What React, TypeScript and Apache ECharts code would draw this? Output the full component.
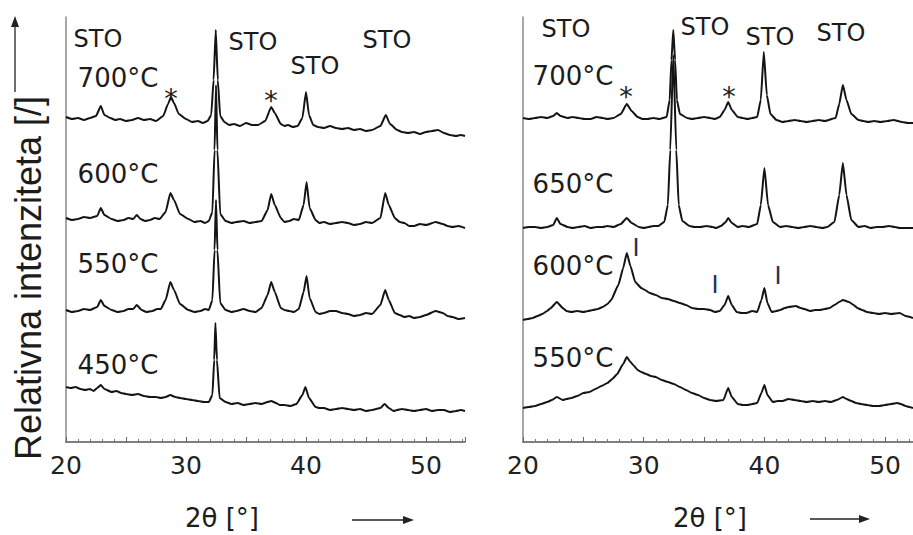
import React, { useEffect, useRef } from "react";
import * as echarts from "echarts";

// x = 2θ [°], y = relative intensity (stacked offsets, arbitrary units)
const left700: number[][] = [
  [20, 325], [20.5, 323], [21, 324], [21.5, 322], [22, 324], [22.5, 326], [22.9, 336], [23.2, 327], [23.7, 324],
  [24.1, 322], [24.5, 323], [25.0, 321], [25.5, 322], [26.0, 324], [26.5, 322], [27.0, 323], [27.5, 321],
  [28.1, 326], [28.5, 338], [28.75, 345], [29.0, 339], [29.4, 328], [30, 323], [30.5, 320], [31, 321], [31.4, 319],
  [31.8, 321], [32.1, 327], [32.3, 362], [32.48, 412], [32.65, 362], [32.85, 326], [33.2, 320], [33.6, 317],
  [34, 318], [34.5, 316], [35, 319], [35.5, 317], [36, 317], [36.6, 321], [37.1, 335], [37.4, 329], [37.9, 318],
  [38.2, 316], [38.5, 317], [38.9, 315], [39.3, 316], [39.7, 324], [40.0, 350], [40.25, 327], [40.6, 317],
  [41.0, 315], [41.5, 314], [42.0, 316], [42.5, 314], [43.0, 313], [43.5, 314], [44.0, 312], [44.5, 313],
  [45.0, 311], [45.5, 312], [46.2, 316], [46.65, 327], [47.0, 318], [47.6, 312], [48.0, 310], [48.5, 309],
  [49.0, 310], [49.5, 308], [50.0, 310], [50.5, 311], [51.0, 312], [51.5, 309], [52.0, 307], [52.5, 306],
  [52.9, 307], [53.25, 306],
];
const left600: number[][] = [
  [20, 224], [20.5, 222], [21, 223], [21.5, 225], [22, 224], [22.6, 226], [22.9, 234], [23.2, 227], [23.8, 223],
  [24.3, 221], [24.8, 222], [25.2, 224], [25.6, 223], [25.9, 227], [26.2, 223], [26.6, 221], [27, 222],
  [27.4, 224], [27.8, 223], [28.3, 230], [28.7, 249], [29.0, 242], [29.5, 228], [30.2, 223], [30.7, 220],
  [31.2, 221], [31.6, 219], [31.9, 221], [32.2, 230], [32.38, 292], [32.5, 357], [32.62, 292], [32.85, 228],
  [33.3, 221], [33.8, 219], [34.2, 220], [34.8, 221], [35.3, 219], [35.8, 220], [36.3, 221], [36.8, 232],
  [37.1, 248], [37.4, 237], [37.9, 224], [38.2, 220], [38.6, 221], [39.0, 223], [39.4, 222], [39.8, 237],
  [40.05, 260], [40.3, 234], [40.8, 222], [41.1, 219], [41.5, 220], [42.0, 218], [42.5, 219], [43.0, 220],
  [43.5, 219], [44.0, 217], [44.5, 218], [45.0, 220], [45.5, 219], [46.2, 224], [46.6, 249], [46.9, 237],
  [47.4, 224], [47.8, 220], [48.2, 219], [48.6, 216], [49, 216], [49.5, 218], [50, 217], [50.8, 220],
  [51.4, 218], [51.8, 216], [52.2, 215], [52.7, 216], [53.25, 214],
];
const left550: number[][] = [
  [20, 132], [20.5, 130], [21, 131], [21.5, 133], [22, 132], [22.6, 135], [22.9, 142], [23.2, 136], [23.8, 132],
  [24.3, 130], [24.8, 131], [25.2, 133], [25.6, 133], [25.9, 137], [26.3, 132], [26.7, 130], [27.2, 131],
  [27.6, 133], [27.9, 133], [28.3, 142], [28.7, 160], [29.0, 152], [29.5, 138], [30.2, 132], [30.7, 130],
  [31.2, 131], [31.6, 133], [31.9, 132], [32.2, 142], [32.38, 192], [32.5, 242], [32.62, 192], [32.85, 139],
  [33.3, 132], [33.8, 130], [34.2, 131], [34.8, 133], [35.3, 131], [35.8, 130], [36.3, 134], [36.8, 147],
  [37.1, 160], [37.4, 150], [37.9, 134], [38.2, 132], [38.6, 131], [39.0, 130], [39.4, 133], [39.8, 150],
  [40.05, 166], [40.3, 144], [40.8, 130], [41.1, 128], [41.5, 129], [42.0, 131], [42.5, 131], [43.0, 129],
  [43.5, 128], [44.0, 126], [44.5, 127], [45.0, 129], [45.5, 128], [46.2, 137], [46.6, 152], [46.9, 142],
  [47.4, 129], [47.8, 127], [48.2, 125], [48.6, 126], [49, 124], [49.5, 125], [50, 127], [50.8, 131],
  [51.4, 129], [51.8, 126], [52.2, 125], [52.7, 123], [53.25, 124],
];
const left450: number[][] = [
  [20, 55], [20.4, 54], [20.8, 55], [21.2, 53], [21.6, 52], [22.0, 53], [22.3, 51], [22.6, 54], [22.9, 57],
  [23.2, 53], [23.8, 50], [24.2, 51], [24.6, 49], [25.0, 48], [25.5, 47], [26.0, 48], [26.5, 46], [27.0, 45],
  [27.5, 45], [27.9, 44], [28.3, 45], [28.7, 47], [29.1, 45], [29.5, 44], [30, 43], [30.5, 42], [31, 41],
  [31.5, 40], [31.9, 40], [32.2, 47], [32.35, 82], [32.45, 119], [32.58, 82], [32.8, 44], [33.3, 40], [33.8, 38],
  [34.3, 39], [34.8, 37], [35.3, 38], [35.8, 39], [36.3, 38], [36.8, 40], [37.1, 41], [37.5, 39], [37.8, 37],
  [38.2, 37], [38.7, 36], [39.2, 38], [39.7, 47], [39.95, 55], [40.25, 44], [40.8, 35], [41.1, 34], [41.5, 34],
  [42.0, 32], [42.5, 33], [43.0, 34], [43.5, 33], [44.0, 32], [44.5, 33], [45.0, 31], [45.5, 32], [46.2, 34],
  [46.55, 38], [46.9, 34], [47.3, 31], [47.6, 32], [48.0, 33], [48.5, 32], [49.0, 31], [49.5, 32], [50.0, 33],
  [50.5, 31], [51.0, 32], [51.5, 32], [52.0, 30], [52.5, 31], [52.9, 32], [53.25, 31],
];

const right700: number[][] = [
  [20, 324], [20.5, 323], [21, 324], [21.5, 325], [22, 324], [22.5, 326], [22.8, 329], [23.1, 326], [23.7, 324],
  [24.1, 325], [24.6, 324], [25.1, 323], [25.6, 323], [26.1, 325], [26.6, 324], [27.0, 323], [27.5, 324],
  [28.1, 328], [28.6, 338], [29.0, 331], [29.5, 325], [29.9, 323], [30.3, 323], [30.8, 324], [31.3, 323],
  [31.9, 325], [32.15, 342], [32.3, 382], [32.45, 412], [32.6, 382], [32.75, 342], [33.0, 328], [33.6, 324],
  [34.0, 323], [34.5, 324], [35.0, 325], [35.5, 324], [35.9, 323], [36.3, 325], [36.7, 332], [37.0, 340],
  [37.3, 332], [37.8, 325], [38.2, 324], [38.6, 323], [39.0, 324], [39.4, 325], [39.7, 342], [39.95, 390],
  [40.2, 347], [40.5, 328], [41, 322], [41.5, 320], [42, 321], [42.5, 322], [43, 321], [43.5, 320], [44, 321],
  [44.5, 322], [45, 321], [45.9, 324], [46.2, 338], [46.5, 357], [46.8, 342], [47.2, 328], [47.8, 322],
  [48.2, 321], [48.6, 320], [49.1, 321], [49.6, 320], [50.2, 321], [50.7, 322], [51.4, 320], [51.9, 319],
  [52.31, 319],
];
const right650: number[][] = [
  [20, 214], [20.5, 215], [21, 215], [21.5, 214], [22, 215], [22.5, 217], [22.8, 224], [23.1, 218], [23.7, 215],
  [24.1, 214], [24.6, 215], [25.1, 216], [25.6, 214], [26.1, 215], [26.6, 215], [27.0, 216], [27.5, 215],
  [28.1, 218], [28.6, 224], [29.0, 219], [29.6, 215], [30.0, 214], [30.4, 215], [30.8, 216], [31.2, 216],
  [31.7, 220], [32.0, 237], [32.2, 292], [32.45, 387], [32.7, 292], [32.9, 237], [33.2, 221], [33.8, 216],
  [34.2, 215], [34.7, 215], [35.2, 216], [35.7, 215], [36.0, 214], [36.4, 216], [36.8, 220], [37.0, 224],
  [37.3, 219], [37.8, 215], [38.2, 216], [38.7, 215], [39.4, 218], [39.7, 237], [40.0, 274], [40.3, 237],
  [40.7, 220], [41.3, 215], [41.8, 216], [42.3, 215], [42.8, 214], [43.3, 215], [43.8, 216], [44.3, 215],
  [44.8, 214], [45.2, 215], [45.8, 220], [46.2, 247], [46.5, 279], [46.8, 247], [47.2, 222], [47.8, 215],
  [48.3, 216], [48.8, 214], [49.3, 215], [49.8, 215], [50.3, 216], [50.8, 215], [51.2, 214], [51.6, 214],
  [52.31, 214],
];
const right600: number[][] = [
  [20, 122], [20.4, 123], [20.8, 124], [21.2, 126], [21.6, 128], [22.0, 131], [22.3, 134], [22.8, 140],
  [23.3, 134], [23.6, 131], [24, 130], [24.5, 131], [25, 130], [25.4, 131], [25.8, 132], [26.2, 133],
  [26.6, 135], [27.0, 138], [27.3, 142], [27.9, 157], [28.3, 174], [28.6, 189], [28.9, 176], [29.3, 160],
  [29.8, 154], [30.1, 152], [30.5, 149], [31.0, 147], [31.5, 144], [32.0, 143], [32.5, 141], [33.0, 139],
  [33.5, 137], [34.0, 134], [34.5, 133], [35.0, 133], [35.5, 132], [35.9, 130], [36.3, 131], [36.7, 137],
  [37.0, 146], [37.3, 137], [37.7, 130], [38.1, 129], [38.5, 129], [39.0, 131], [39.4, 130], [39.75, 142],
  [40.0, 154], [40.25, 139], [40.6, 130], [41.0, 131], [41.3, 132], [41.7, 134], [42, 135], [42.6, 136],
  [43.0, 134], [43.3, 133], [43.8, 131], [44.2, 132], [44.6, 132], [45, 133], [45.4, 134], [45.8, 137],
  [46.2, 140], [46.5, 142], [47.0, 140], [47.4, 137], [47.7, 134], [48.1, 132], [48.5, 130], [49.0, 129],
  [49.5, 128], [50.0, 129], [50.5, 128], [51.2, 129], [51.7, 126], [52.31, 124],
];
const right550: number[][] = [
  [20, 34], [20.5, 35], [21, 36], [21.5, 38], [22, 40], [22.4, 42], [22.8, 45], [23.3, 42], [23.6, 43],
  [24, 44], [24.5, 46], [25, 49], [25.5, 50], [26, 53], [26.5, 56], [27, 59], [27.4, 63], [27.8, 68], [28.3, 78],
  [28.6, 85], [28.9, 80], [29.2, 76], [29.5, 72], [29.8, 70], [30.2, 68], [30.6, 66], [31, 65], [31.5, 62],
  [32, 60], [32.5, 58], [33, 55], [33.5, 52], [34, 49], [34.5, 47], [35, 44], [35.5, 42], [36, 41], [36.6, 42],
  [37.0, 54], [37.3, 45], [37.8, 38], [38.2, 37], [38.6, 37], [39.0, 38], [39.4, 39], [39.75, 49], [40.0, 57],
  [40.25, 47], [40.7, 40], [41.1, 41], [41.5, 41], [42.0, 43], [42.5, 42], [43.0, 41], [43.5, 40], [44.0, 41],
  [44.5, 40], [45.0, 41], [45.5, 40], [46.0, 42], [46.5, 45], [46.8, 43], [47.2, 41], [47.6, 39], [48, 38],
  [48.5, 37], [49, 36], [49.5, 36], [50, 37], [50.5, 38], [51, 39], [51.3, 38], [51.7, 36], [52.0, 35],
  [52.31, 34],
];

const leftTemps = ["700°C", "600°C", "550°C", "450°C"];
const rightTemps = ["700°C", "650°C", "600°C", "550°C"];
const phaseLabel = "STO";
const yTitle = "Relativna intenziteta [/]";
const xTitle = "2θ [°]";

const FONT = "DejaVu Sans";
const INK = "#1c1c1c";

function txt(text: string, x: number, y: number, size: number, fill = INK, extra: any = {}) {
  return {
    type: "text",
    x,
    y,
    silent: true,
    ...extra,
    style: {
      text,
      fill,
      fontSize: size,
      fontFamily: FONT,
      align: "center",
      verticalAlign: "middle",
      textAlign: "center",
      textVerticalAlign: "middle",
    },
  };
}

function arrow(x1: number, y1: number, x2: number, y2: number, vertical = false) {
  const els: any[] = [];
  if (vertical) {
    els.push({ type: "line", shape: { x1, y1, x2, y2: y2 + 8 }, style: { stroke: "#222", lineWidth: 1.3 } });
    els.push({ type: "polygon", shape: { points: [[x2, y2], [x2 - 4, y2 + 11], [x2 + 4, y2 + 11]] }, style: { fill: "#222" } });
  } else {
    els.push({ type: "line", shape: { x1, y1, x2: x2 - 8, y2 }, style: { stroke: "#222", lineWidth: 1.3 } });
    els.push({ type: "polygon", shape: { points: [[x2, y2], [x2 - 11, y2 - 4], [x2 - 11, y2 + 4]] }, style: { fill: "#222" } });
  }
  return els;
}

function xAxisCfg(gridIndex: number, max: number) {
  return {
    gridIndex,
    type: "value",
    min: 20,
    max,
    interval: 5,
    axisLine: { show: true, onZero: false, lineStyle: { color: "#555", width: 1.5 } },
    axisTick: { show: true, inside: true, length: 5, lineStyle: { color: "#666", width: 1 } },
    minorTick: { show: true, splitNumber: 5, length: 3, lineStyle: { color: "#777", width: 1 } },
    axisLabel: {
      formatter: (v: number) => (v % 10 === 0 ? String(v) : ""),
      fontSize: 25,
      fontFamily: FONT,
      color: "#222",
      margin: 11,
      showMaxLabel: false,
    },
    splitLine: { show: false },
  };
}

function yAxisCfg(gridIndex: number) {
  return {
    gridIndex,
    type: "value",
    min: 0,
    max: 425,
    axisLine: { show: true, onZero: false, lineStyle: { color: "#8a8a8a", width: 1.5 } },
    axisTick: { show: false },
    axisLabel: { show: false },
    splitLine: { show: false },
  };
}

function lineSeries(data: number[][], idx: number) {
  return {
    type: "line",
    xAxisIndex: idx,
    yAxisIndex: idx,
    data,
    showSymbol: false,
    smooth: 0.15,
    smoothMonotone: "x",
    lineStyle: { color: "#141414", width: 2 },
    silent: true,
  };
}

export default function App() {
  const ref = useRef<HTMLDivElement>(null);
  useEffect(() => {
    if (!ref.current) return;
    const chart = echarts.init(ref.current, undefined, { renderer: "svg" });
    const graphics: any[] = [
      // left panel annotations
      txt(phaseLabel, 98, 39, 24),
      txt(phaseLabel, 253, 42, 24),
      txt(phaseLabel, 315, 66, 24),
      txt(phaseLabel, 387, 40, 24),
      txt(leftTemps[0], 118, 78, 26),
      txt("*", 171, 98, 27),
      txt("*", 271, 100, 27),
      txt(leftTemps[1], 118, 174, 26),
      txt(leftTemps[2], 118, 264, 26),
      txt(leftTemps[3], 118, 365, 26),
      // right panel annotations
      txt(phaseLabel, 566, 29, 24),
      txt(phaseLabel, 705, 27, 24),
      txt(phaseLabel, 770, 37, 24),
      txt(phaseLabel, 841, 33, 24),
      txt(rightTemps[0], 573, 76, 26),
      txt("*", 626, 96, 27),
      txt("*", 729, 96, 27),
      txt(rightTemps[1], 573, 184, 26),
      txt(rightTemps[2], 573, 266, 26),
      txt(rightTemps[3], 573, 358, 26),
      txt("I", 636, 248, 24, "#22305a"),
      txt("I", 715, 285, 24, "#22305a"),
      txt("I", 778, 276, 24, "#22305a"),
      // axis titles
      {
        type: "text",
        x: 28,
        y: 278,
        rotation: Math.PI / 2,
        silent: true,
        style: {
          text: yTitle,
          fill: INK,
          fontSize: 36,
          fontFamily: "Liberation Sans",
          align: "center",
          verticalAlign: "middle",
          textAlign: "center",
          textVerticalAlign: "middle",
        },
      },
      txt(xTitle, 222, 518, 26),
      txt(xTitle, 710, 518, 26),
      ...arrow(15, 92, 15, 16, true),
      ...arrow(352, 520, 414, 520),
      ...arrow(810, 519, 870, 519),
    ];
    chart.setOption({
      animation: false,
      backgroundColor: "#ffffff",
      grid: [
        { left: 66, top: 17, width: 399, height: 425 },
        { left: 523, top: 17, width: 390, height: 425 },
      ],
      xAxis: [xAxisCfg(0, 53.25), xAxisCfg(1, 52.31)],
      yAxis: [yAxisCfg(0), yAxisCfg(1)],
      series: [
        lineSeries(left700, 0),
        lineSeries(left600, 0),
        lineSeries(left550, 0),
        lineSeries(left450, 0),
        lineSeries(right700, 1),
        lineSeries(right650, 1),
        lineSeries(right600, 1),
        lineSeries(right550, 1),
      ],
      graphic: graphics,
    });
    return () => chart.dispose();
  }, []);
  return (
    <div
      ref={ref}
      style={{ position: "absolute", left: 0, top: 0, width: 913, height: 535, background: "#fff" }}
    />
  );
}
